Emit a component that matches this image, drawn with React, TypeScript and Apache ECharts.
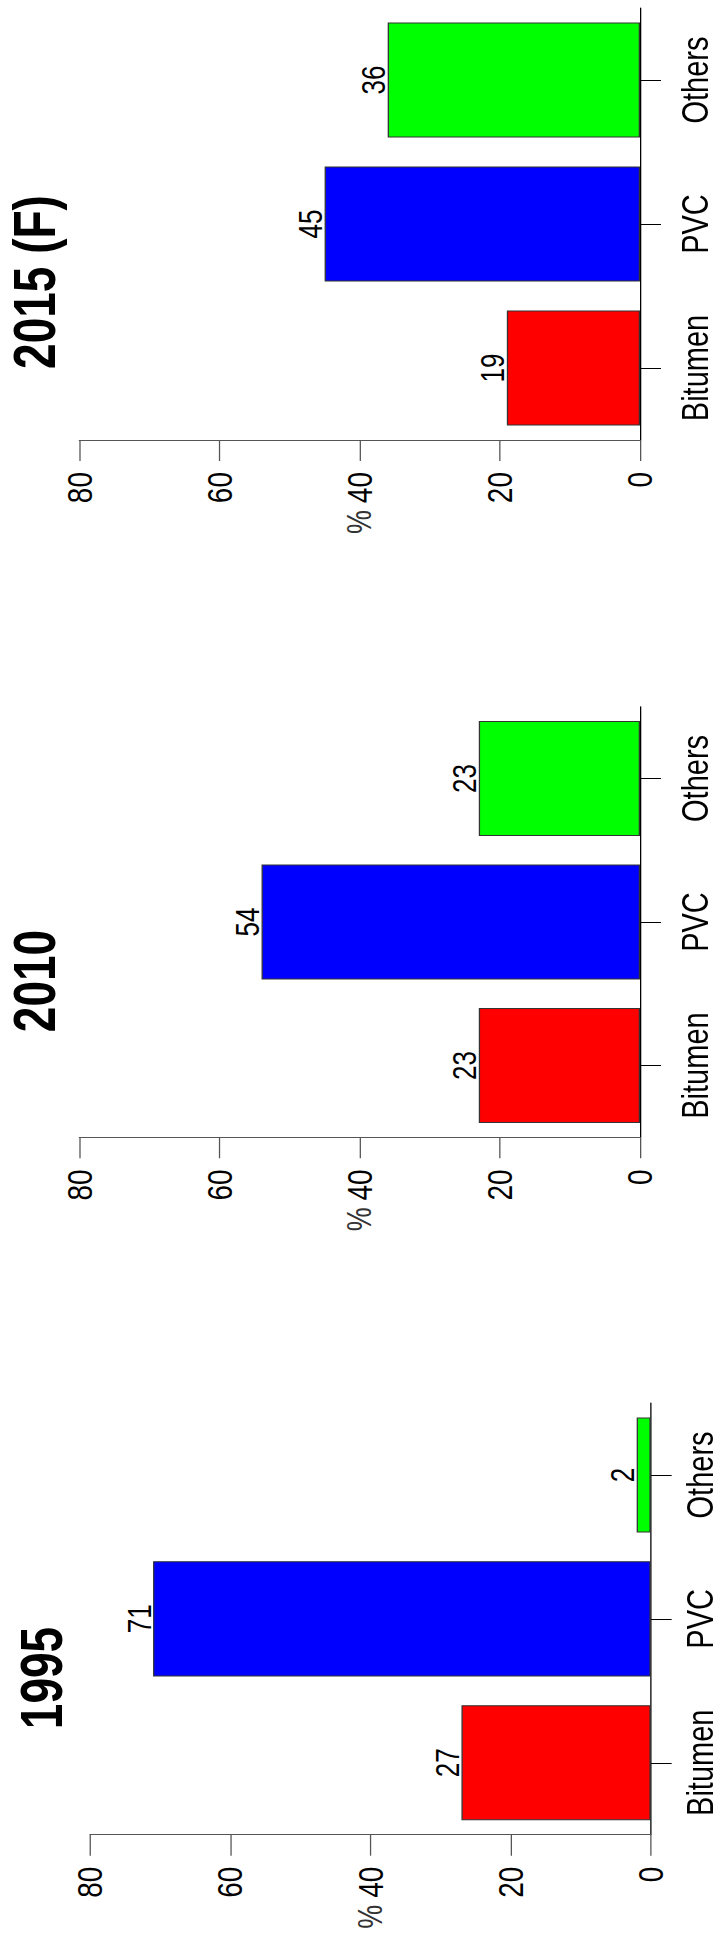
import React, { useEffect, useRef } from "react";
import * as echarts from "echarts";

// Roofing membrane market share by material, three snapshots
const categories = ["Bitumen", "PVC", "Others"];
const yearTitles = ["2015 (F)", "2010", "1995"];
const share2015 = [19, 45, 36];
const share2010 = [23, 54, 23];
const share1995 = [27, 71, 2];
const barColors = ["#ff0000", "#0000ff", "#00ff00"];
const valueMin = 0;
const valueMax = 80;
const valueStep = 20;
const valueAxisName = "%";

const panelValues = [share2015, share2010, share1995];

// The figure is drawn on a narrower canvas and stretched sideways,
// which gives the rotated lettering its tall, condensed look.
const STRETCH = 1.28;
const PAGE_W = 720;
const PAGE_H = 1937;
const CANVAS_W = PAGE_W / STRETCH;

// Placement of each panel (canvas units, top to bottom)
const panelLayout = [
  { left: 61.95, top: 8, height: 432, titleX: 27, titleY: 282, labelMargin: 28.5 },
  { left: 61.95, top: 706.7, height: 430.6, titleX: 27, titleY: 981, labelMargin: 28.5 },
  { left: 70.3, top: 1403, height: 431.7, titleX: 32, titleY: 1678, labelMargin: 24.2 },
];
const plotWidth = 438.05;

const FONT = '"Liberation Sans", Arial, Helvetica, sans-serif';

function buildOption(): echarts.EChartsCoreOption {
  const grid = panelLayout.map((p) => ({
    left: p.left,
    top: p.top,
    width: plotWidth,
    height: p.height,
    containLabel: false,
  }));

  const xAxis = panelLayout.map((_, i) => ({
    type: "value",
    gridIndex: i,
    inverse: true,
    position: "bottom",
    min: valueMin,
    max: valueMax,
    interval: valueStep,
    splitLine: { show: false },
    axisLine: { show: true, lineStyle: { color: "#555", width: 1 } },
    axisTick: { show: true, length: 21, lineStyle: { color: "#555", width: 1 } },
    axisLabel: {
      rotate: 90,
      margin: 32,
      color: "#000",
      fontSize: 28,
      fontFamily: FONT,
      padding: [11, 0, 0, 0],
    },
    name: valueAxisName,
    nameLocation: "middle",
    nameRotate: 90,
    nameGap: 70,
    nameTextStyle: {
      color: "#333",
      fontSize: 27,
      fontFamily: FONT,
      fontWeight: "normal",
      padding: [4, 0, 0, 0],
    },
  }));

  const yAxis = panelLayout.map((p, i) => ({
    type: "category",
    gridIndex: i,
    position: "right",
    data: categories,
    axisLine: { show: true, onZero: false, lineStyle: { color: "#000", width: 1 } },
    axisTick: {
      show: true,
      alignWithLabel: true,
      length: 16.4,
      lineStyle: { color: "#000", width: 1 },
    },
    axisLabel: {
      interval: 0,
      rotate: 90,
      margin: p.labelMargin,
      color: "#000",
      fontSize: 29,
      fontFamily: FONT,
    },
    splitLine: { show: false },
  }));

  const series = panelValues.map((values, i) => ({
    type: "bar",
    xAxisIndex: i,
    yAxisIndex: i,
    barWidth: "80%",
    data: values.map((v, k) => ({ value: v, itemStyle: { color: barColors[k] } })),
    itemStyle: { borderColor: "#333", borderWidth: 1 },
    label: {
      show: true,
      position: "left",
      rotate: 90,
      align: "center",
      verticalAlign: "bottom",
      distance: -2,
      color: "#000",
      fontSize: 26,
      fontFamily: FONT,
    },
  }));

  const graphic = panelLayout.map((p, i) => ({
    type: "text",
    x: p.titleX,
    y: p.titleY,
    rotation: Math.PI / 2,
    style: {
      text: yearTitles[i],
      fontSize: 46,
      fontWeight: "bold",
      fontFamily: FONT,
      fill: "#000",
      align: "center",
      verticalAlign: "middle",
    },
  }));

  return {
    animation: false,
    backgroundColor: "#fff",
    grid,
    xAxis,
    yAxis,
    series,
    graphic,
  };
}

export default function App() {
  const ref = useRef<HTMLDivElement | null>(null);

  useEffect(() => {
    if (!ref.current) return;
    const chart = echarts.init(ref.current, undefined, {
      renderer: "svg",
      width: CANVAS_W,
      height: PAGE_H,
    });
    chart.setOption(buildOption());
    return () => chart.dispose();
  }, []);

  return (
    <div
      style={{
        position: "absolute",
        left: 0,
        top: 0,
        width: PAGE_W,
        height: PAGE_H,
        overflow: "hidden",
        background: "#fff",
      }}
    >
      <div
        ref={ref}
        style={{
          width: CANVAS_W,
          height: PAGE_H,
          transform: `scaleX(${STRETCH})`,
          transformOrigin: "0 0",
        }}
      />
    </div>
  );
}
